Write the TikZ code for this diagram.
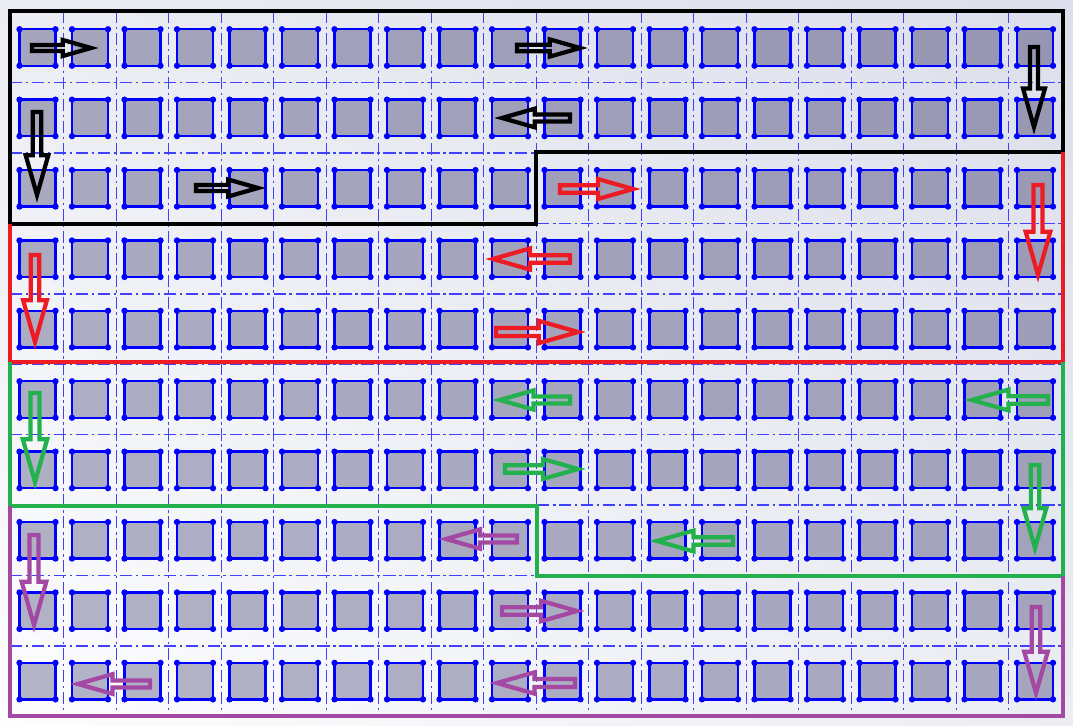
\documentclass[tikz,border=0pt]{standalone}
\usepackage{tikz}
\usetikzlibrary{calc,shadings}
\definecolor{padblue}{RGB}{0,0,255}
\definecolor{paddark}{RGB}{150,150,178}
\definecolor{padlight}{RGB}{180,180,200}
\definecolor{bgdark}{RGB}{220,223,235}
\definecolor{bgmid}{RGB}{235,237,243}
\definecolor{bglight}{RGB}{253,253,254}
\definecolor{zonered}{RGB}{237,28,36}
\definecolor{zonegreen}{RGB}{34,177,76}
\definecolor{zonepurple}{RGB}{163,73,164}

\tikzset{
  gridline/.style={padblue!75, line width=0.7pt, dash pattern=on 7pt off 2pt on 1.5pt off 2pt},
  pad/.style={draw=padblue, line width=1.4pt},
  zone/.style={line width=2.6pt, line join=miter},
  flow/.style={line width=2.4pt, line join=miter}
}

\newcommand{\flowarrow}[3]{%
  \coordinate (tail) at (#2);
  \coordinate (tip) at (#3);
  \coordinate (neck) at ($(tip)!0.48!(tail)$);
  \draw[flow, #1] ($(tail)!0.05!90:(tip)$) -- ($(neck)!0.104!90:(tip)$)
    -- ($(neck)!0.285!90:(tip)$) -- (tip) -- ($(neck)!0.285!-90:(tip)$)
    -- ($(neck)!0.104!-90:(tip)$) -- ($(tail)!0.05!-90:(tip)$) -- cycle;
}

\begin{document}
\begin{tikzpicture}[x=0.02cm, y=-0.02cm]
  \useasboundingbox (0,0) rectangle (1073,726);
  \shade[upper left=bgmid, upper right=bgdark, lower left=bglight, lower right=bgmid]
    (0,0) rectangle (1073,726);

  \foreach \i in {0,...,18}
    \draw[gridline] ({63.75+52.5*\i},11) -- ({63.75+52.5*\i},718);
  \foreach \j in {0,...,8}
    \draw[gridline] (10,{82.7+70.4*\j}) -- (1063,{82.7+70.4*\j});

  \foreach \i in {0,...,19}{
    \foreach \j in {0,...,9}{
      \pgfmathsetmacro{\cx}{37.5+52.5*\i}
      \pgfmathsetmacro{\cy}{47.5+70.4*\j}
      \pgfmathtruncatemacro{\mix}{50*\i/19+50*(9-\j)/9}
      \draw[pad, fill=paddark!\mix!padlight] (\cx-18,\cy-18.25) rectangle (\cx+18,\cy+18.25);
      \foreach \dx/\dy in {-18/-18.25, 18/-18.25, 18/18.25, -18/18.25}
        \fill[padblue] (\cx+\dx,\cy+\dy) circle (1.8pt);
    }
  }

  \draw[zone, black] (10,11) -- (1063,11) -- (1063,152) -- (536,152) -- (536,224) -- (10,224) -- cycle;
  \draw[zone, zonered] (10,224) -- (10,362) -- (1063,362) -- (1063,152);
  \draw[zone, zonegreen] (10,362) -- (10,506) -- (537,506) -- (537,576) -- (1063,576) -- (1063,362);
  \draw[zone, zonepurple] (10,506) -- (10,716) -- (1063,716) -- (1063,576);

  \flowarrow{black}{32,48}{91,48}
  \flowarrow{black}{517,48}{580,48}
  \flowarrow{black}{570,118}{502,118}
  \flowarrow{black}{37,112}{37,195}
  \flowarrow{black}{196,188}{258,188}
  \flowarrow{black}{1034,47}{1034,127}

  \flowarrow{zonered}{560,189}{633,189}
  \flowarrow{zonered}{570,259}{493,259}
  \flowarrow{zonered}{496,332}{578,332}
  \flowarrow{zonered}{35,255}{35,342}
  \flowarrow{zonered}{1038,185}{1038,275}

  \flowarrow{zonegreen}{35,393}{35,482}
  \flowarrow{zonegreen}{570,400}{500,400}
  \flowarrow{zonegreen}{505,469}{578,469}
  \flowarrow{zonegreen}{1048,400}{972,400}
  \flowarrow{zonegreen}{1035,465}{1035,548}
  \flowarrow{zonegreen}{733,541}{657,541}

  \flowarrow{zonepurple}{517,539}{446,539}
  \flowarrow{zonepurple}{502,611}{577,611}
  \flowarrow{zonepurple}{575,683}{497,683}
  \flowarrow{zonepurple}{150,684}{78,684}
  \flowarrow{zonepurple}{34,535}{34,625}
  \flowarrow{zonepurple}{1036,607}{1036,693}
\end{tikzpicture}
\end{document}
